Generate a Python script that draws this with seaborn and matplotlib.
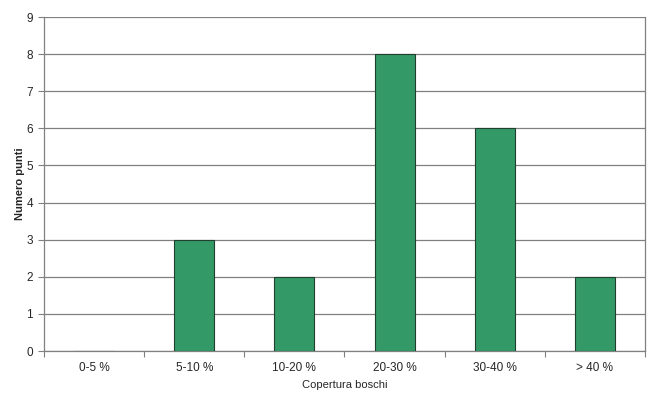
import matplotlib
matplotlib.use("Agg")
import matplotlib.pyplot as plt
import seaborn as sns
import pandas as pd
import numpy as np

# Dati
categorie = ['0-5 %', '5-10 %', '10-20 %', '20-30 %', '30-40 %', '> 40 %']
punti = [0, 3, 2, 8, 6, 2]

df = pd.DataFrame({'Copertura boschi': categorie, 'Numero punti': punti})

sns.set_style("white")
plt.rcParams['font.family'] = ['Liberation Sans', 'DejaVu Sans']

fig = plt.figure(figsize=(6.5, 3.97), dpi=100)
ax = fig.add_axes([44 / 650, 46 / 397, 601 / 650, 334 / 397])

sns.barplot(data=df, x='Copertura boschi', y='Numero punti', color='#339966',
            saturation=1, width=0.4, edgecolor='#1f3f2f', linewidth=0.8,
            ax=ax, zorder=3)

ax.set_xlim(-0.5, len(categorie) - 0.5)
ax.set_ylim(0, 9)
ax.set_yticks(range(10))
ax.yaxis.grid(True, color='#808080', linewidth=0.9, zorder=0)
ax.set_axisbelow(True)

# tacche sull'asse x tra le categorie, etichette al centro
ax.set_xticks(np.arange(-0.5, len(categorie)), labels=[''] * (len(categorie) + 1))
ax.set_xticks(range(len(categorie)), labels=categorie, minor=True)
ax.tick_params(axis='x', which='major', bottom=True, length=4, width=0.8,
               color='#808080', direction='out')
ax.tick_params(axis='x', which='minor', bottom=False, length=0, labelsize=8.5, pad=8)
ax.tick_params(axis='y', left=True, length=4, width=0.8, color='#808080',
               direction='out', labelsize=8.5, pad=4)

for side in ['left', 'bottom']:
    ax.spines[side].set_color('#808080')
    ax.spines[side].set_linewidth(0.9)
ax.spines['top'].set_visible(False)
ax.spines['right'].set_color('#808080')
ax.spines['right'].set_linewidth(0.9)

ax.set_xlabel('Copertura boschi', fontsize=8, labelpad=4)
ax.set_ylabel('Numero punti', fontsize=8, fontweight='bold', labelpad=1)

fig.savefig('out.png', dpi=100)
